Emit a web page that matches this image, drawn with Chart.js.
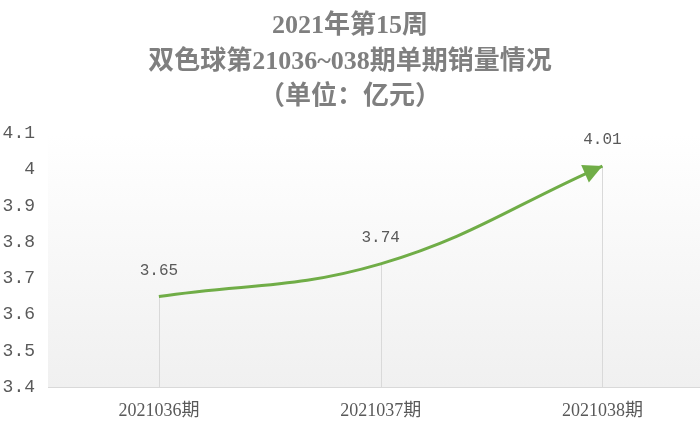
<!DOCTYPE html>
<html><head><meta charset="utf-8">
<script src="https://cdn.jsdelivr.net/npm/chart.js@4"></script>
<style>html,body{margin:0;padding:0;background:#fff}#wrap{width:700px;height:425px;position:relative}</style>
</head><body><div id="wrap"><canvas id="c"></canvas></div>
<script>
const categories = ['2021036期', '2021037期', '2021038期'];
const sales = [3.65, 3.74, 4.01];
const titleLines = ['2021年第15周', '双色球第21036~038期单期销量情况', '（单位：亿元）'];
const yMin = 3.4, yMax = 4.1, yStep = 0.1;

const LINE_COLOR = '#70ad47';
const TEXT_COLOR = '#595959';

const decor = {
  id: 'decor',
  beforeDraw(chart) {
    const {ctx, chartArea: a} = chart;
    ctx.save();
    const g = ctx.createLinearGradient(0, a.top, 0, a.bottom);
    g.addColorStop(0, '#ffffff');
    g.addColorStop(1, '#f0f0f0');
    ctx.fillStyle = g;
    ctx.fillRect(a.left, a.top, a.right - a.left, a.bottom - a.top);
    ctx.restore();
  },
  beforeDatasetsDraw(chart) {
    const {ctx, chartArea: a} = chart;
    const meta = chart.getDatasetMeta(0);
    ctx.save();
    ctx.strokeStyle = '#d9d9d9';
    ctx.lineWidth = 1;
    meta.data.forEach(p => {
      const x = Math.round(p.x) + 0.5;
      ctx.beginPath();
      ctx.moveTo(x, p.y);
      ctx.lineTo(x, a.bottom);
      ctx.stroke();
    });
    ctx.beginPath();
    ctx.moveTo(a.left, Math.round(a.bottom) + 0.5);
    ctx.lineTo(a.right, Math.round(a.bottom) + 0.5);
    ctx.stroke();
    ctx.restore();
  },
  afterDatasetsDraw(chart) {
    const {ctx} = chart;
    const meta = chart.getDatasetMeta(0);
    const pts = meta.data;
    const last = pts[pts.length - 1];
    let dx = last.x - last.cp1x, dy = last.y - last.cp1y;
    const len = Math.hypot(dx, dy) || 1;
    dx /= len; dy /= len;
    const L = 19, W = 9.5;
    const bx = last.x - dx * L, by = last.y - dy * L;
    ctx.save();
    ctx.fillStyle = LINE_COLOR;
    ctx.beginPath();
    ctx.moveTo(last.x, last.y);
    ctx.lineTo(bx - dy * W, by + dx * W);
    ctx.lineTo(bx + dy * W, by - dx * W);
    ctx.closePath();
    ctx.fill();
    ctx.fillStyle = TEXT_COLOR;
    ctx.font = '16px "Liberation Mono", monospace';
    ctx.textAlign = 'center';
    ctx.textBaseline = 'middle';
    pts.forEach((p, i) => {
      ctx.fillText(String(sales[i]), p.x, p.y - 26);
    });
    ctx.restore();
  }
};

new Chart(document.getElementById('c'), {
  type: 'line',
  data: {
    datasets: [{
      data: sales.map((v, i) => ({x: i, y: v})),
      borderColor: LINE_COLOR,
      borderWidth: 3,
      tension: 0.4,
      pointRadius: 0,
      fill: false
    }]
  },
  options: {
    responsive: true,
    maintainAspectRatio: false,
    animation: false,
    layout: {padding: 0},
    plugins: {
      legend: {display: false},
      tooltip: {enabled: false},
      title: {
        display: true,
        text: titleLines,
        color: '#7f7f7f',
        font: {family: '"Liberation Serif", "Noto Sans CJK SC"', size: 26, weight: 'bold', lineHeight: 1.365},
        padding: {top: 9, bottom: 18}
      }
    },
    scales: {
      x: {
        type: 'linear',
        min: -0.5,
        max: 2.44,
        afterBuildTicks(scale) { scale.ticks = categories.map((_, i) => ({value: i})); },
        afterFit(scale) { scale.height = 38; },
        ticks: {
          callback: (v) => categories[v],
          color: TEXT_COLOR,
          font: {family: '"Liberation Serif", "Noto Sans CJK SC"', size: 18},
          padding: 13,
          maxRotation: 0,
          autoSkip: false
        },
        grid: {display: false, drawTicks: false},
        border: {display: false}
      },
      y: {
        min: yMin,
        max: yMax,
        afterFit(scale) { scale.width = 48; },
        ticks: {
          stepSize: yStep,
          callback: (v) => String(Math.round(v * 10) / 10),
          color: TEXT_COLOR,
          font: {family: '"Liberation Mono", monospace', size: 18},
          padding: 13
        },
        grid: {display: false, drawTicks: false},
        border: {display: false}
      }
    }
  },
  plugins: [decor]
});
</script>
</body></html>
